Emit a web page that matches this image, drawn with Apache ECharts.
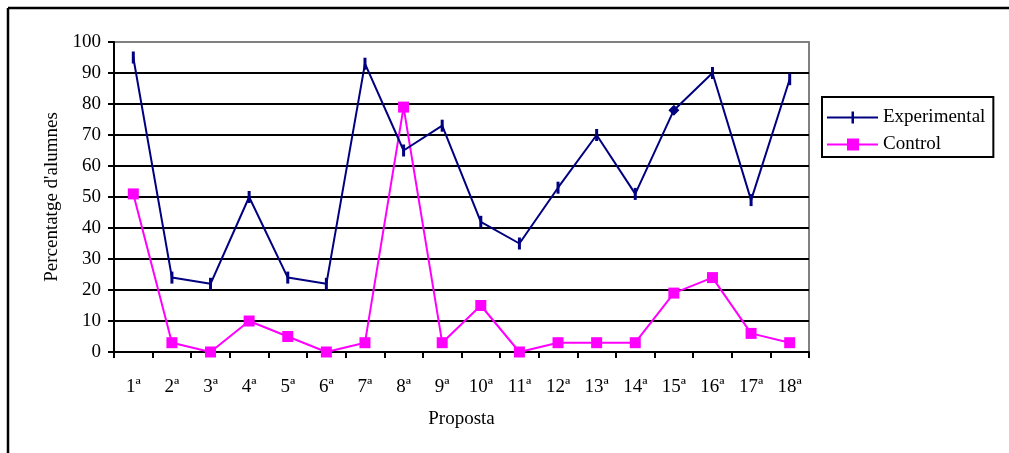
<!DOCTYPE html>
<html>
<head>
<meta charset="utf-8">
<script src="https://cdn.jsdelivr.net/npm/echarts@6/dist/echarts.min.js"></script>
<style>
html,body{margin:0;padding:0;background:#fff;}
#c{width:1009px;height:453px;}
</style>
</head>
<body>
<div id="c"></div>
<script>
var categories = ['1ª','2ª','3ª','4ª','5ª','6ª','7ª','8ª','9ª','10ª','11ª','12ª','13ª','14ª','15ª','16ª','17ª','18ª'];
var experimental = [95, 24, 22, 50, 24, 22, 93, 65, 73, 42, 35, 53, 70, 51, 78, 90, 49, 88];
var control = [51, 3, 0, 10, 5, 0, 3, 79, 3, 15, 0, 3, 3, 3, 19, 24, 6, 3];
var yTicks = [0, 10, 20, 30, 40, 50, 60, 70, 80, 90, 100];

var FONT = 'Liberation Serif';
var FS = 19;
var chart = echarts.init(document.getElementById('c'), null, {renderer: 'canvas'});

var expData = experimental.map(function (v, i) {
  if (i === 14) {
    return {value: v, symbol: 'diamond', symbolSize: 11};
  }
  return v;
});

var gridColors = yTicks.map(function (t) { return t === 100 ? '#808080' : '#000000'; });

chart.setOption({
  animation: false,
  backgroundColor: '#ffffff',
  textStyle: {fontFamily: FONT},
  grid: {
    left: 114, right: 200, top: 42, bottom: 101,
    show: true, borderColor: '#808080', borderWidth: 2, backgroundColor: 'transparent'
  },
  legend: {
    orient: 'vertical',
    left: 822, top: 97,
    padding: [11, 8, 3, 5],
    itemGap: 8,
    itemWidth: 51,
    itemHeight: 12,
    symbolKeepAspect: false,
    borderColor: '#000', borderWidth: 2,
    textStyle: {fontFamily: FONT, fontSize: FS, color: '#000'},
    data: [
      {name: 'Experimental', icon: 'path://M0,5H51V7H0Z M24.5,0H27V12H24.5Z', itemStyle: {color: '#000080'}},
      {name: 'Control', icon: 'path://M0,5H51V7H0Z M20,0H32V12H20Z', itemStyle: {color: '#ff00ff'}}
    ]
  },
  xAxis: {
    type: 'category',
    data: categories,
    boundaryGap: true,
    name: 'Proposta',
    nameLocation: 'middle',
    nameGap: 58,
    nameTextStyle: {fontFamily: FONT, fontSize: FS, color: '#000'},
    axisLine: {lineStyle: {color: '#000', width: 2}},
    axisTick: {show: true, length: 6, lineStyle: {color: '#000', width: 2}},
    axisLabel: {fontFamily: FONT, fontSize: FS, color: '#000', margin: 26}
  },
  yAxis: {
    type: 'value',
    min: 0, max: 100, interval: 10,
    name: "Percentatge d'alumnes",
    nameLocation: 'middle',
    nameRotate: 90,
    nameGap: 51,
    nameTextStyle: {fontFamily: FONT, fontSize: FS, color: '#000'},
    axisLine: {show: true, lineStyle: {color: '#000', width: 2}},
    axisTick: {show: true, length: 6, lineStyle: {color: '#000', width: 2}},
    axisLabel: {fontFamily: FONT, fontSize: FS, color: '#000', margin: 13},
    splitLine: {show: true, lineStyle: {color: gridColors, width: 2}}
  },
  series: [
    {
      name: 'Experimental',
      type: 'line',
      data: expData,
      color: '#000080',
      symbol: 'rect',
      symbolSize: [3, 12],
      showAllSymbol: true,
      lineStyle: {color: '#000080', width: 2},
      itemStyle: {color: '#000080'},
      z: 3
    },
    {
      name: 'Control',
      type: 'line',
      data: control,
      color: '#ff00ff',
      symbol: 'rect',
      symbolSize: 11,
      showAllSymbol: true,
      lineStyle: {color: '#ff00ff', width: 2},
      itemStyle: {color: '#ff00ff'},
      z: 2
    }
  ],
  graphic: [
    {type: 'line', shape: {x1: 8, y1: 8, x2: 1009, y2: 8}, style: {stroke: '#000', lineWidth: 2.5}, silent: true},
    {type: 'line', shape: {x1: 8, y1: 8, x2: 8, y2: 453}, style: {stroke: '#000', lineWidth: 2.5}, silent: true}
  ]
});
</script>
</body>
</html>
